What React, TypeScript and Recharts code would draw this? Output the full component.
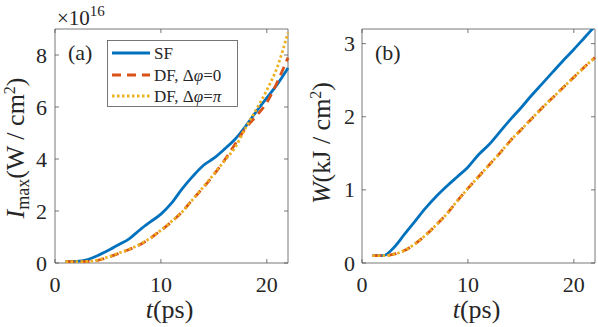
import React from 'react';
import { LineChart, Line, XAxis, YAxis, ReferenceArea } from 'recharts';

// ---------- data ----------
const T = [1, 2, 3, 4, 5, 6, 7, 8, 9, 10, 11, 12, 13, 14, 15, 16, 17, 18, 19, 20, 21, 22];

// panel (a): I_max in units of 1e16 W/cm^2
const A_SF = [0.05, 0.06, 0.12, 0.28, 0.48, 0.7, 0.93, 1.27, 1.58, 1.88, 2.3, 2.85, 3.33, 3.75, 4.03, 4.38, 4.76, 5.26, 5.82, 6.35, 6.88, 7.5];
const A_DF0 = [0.05, 0.05, 0.06, 0.1, 0.22, 0.36, 0.52, 0.7, 0.95, 1.25, 1.58, 1.97, 2.45, 2.9, 3.4, 3.95, 4.57, 5.18, 5.65, 6.17, 6.97, 7.9];
const A_DFPI = [0.05, 0.05, 0.06, 0.11, 0.23, 0.38, 0.53, 0.72, 0.96, 1.26, 1.6, 1.96, 2.44, 2.92, 3.42, 3.93, 4.44, 5.2, 5.9, 6.65, 7.55, 8.86];

// panel (b): W in kJ/cm^2
const B_SF = [0.1, 0.1, 0.21, 0.39, 0.57, 0.75, 0.91, 1.05, 1.18, 1.31, 1.48, 1.62, 1.79, 1.96, 2.12, 2.29, 2.45, 2.61, 2.77, 2.92, 3.08, 3.24];
const B_DF0 = [0.1, 0.1, 0.12, 0.17, 0.26, 0.38, 0.52, 0.67, 0.85, 1.02, 1.18, 1.34, 1.5, 1.67, 1.82, 1.97, 2.12, 2.26, 2.4, 2.54, 2.68, 2.81];
const B_DFPI = [0.1, 0.1, 0.12, 0.17, 0.26, 0.38, 0.52, 0.67, 0.85, 1.02, 1.18, 1.34, 1.5, 1.67, 1.82, 1.97, 2.12, 2.26, 2.4, 2.54, 2.68, 2.81];

const X_TICKS = [0, 10, 20];
const A_Y_TICKS = [0, 2, 4, 6, 8];
const B_Y_TICKS = [0, 1, 2, 3];
const X_DOMAIN = [0, 22];
const A_Y_DOMAIN = [0, 9];
const B_Y_DOMAIN = [0, 3.2];

const SERIES = [
  { key: 'sf', name: 'SF', color: '#0072BD', dash: undefined },
  { key: 'df0', name: 'DF, Δφ=0', color: '#D95319', dash: '9 6' },
  { key: 'dfpi', name: 'DF, Δφ=π', color: '#EDB120', dash: '2.5 2.5' },
];

const dataA = T.map((t, i) => ({ t, sf: A_SF[i], df0: A_DF0[i], dfpi: A_DFPI[i] }));
const dataB = T.map((t, i) => ({ t, sf: B_SF[i], df0: B_DF0[i], dfpi: B_DFPI[i] }));

// ---------- styling ----------
const FONT = 'Liberation Serif';
const INK = '#262626';
const BOX = '#555555';
const H = 327;
const TOP = 29;
const X_AXIS_H = 64;
const PLOT_H = H - TOP - X_AXIS_H;
const TICK_LEN = 4;

const makeXTick = () => (props: any) => {
  const { x, y, payload } = props;
  return (
    <g>
      <line x1={x} y1={y} x2={x} y2={y - TICK_LEN} stroke={BOX} strokeWidth={0.8} />
      <line x1={x} y1={y - PLOT_H} x2={x} y2={y - PLOT_H + TICK_LEN} stroke={BOX} strokeWidth={0.8} />
      <text x={x} y={y + 29} textAnchor="middle" fontSize={22} fontFamily={FONT} fill={INK}>
        {payload.value}
      </text>
    </g>
  );
};

const makeYTick = (plotW: number, gap: number) => (props: any) => {
  const { x, y, payload } = props;
  return (
    <g>
      <line x1={x} y1={y} x2={x + TICK_LEN} y2={y} stroke={BOX} strokeWidth={0.8} />
      <line x1={x + plotW} y1={y} x2={x + plotW - TICK_LEN} y2={y} stroke={BOX} strokeWidth={0.8} />
      <text x={x - gap} y={y + 7.5} textAnchor="end" fontSize={22} fontFamily={FONT} fill={INK}>
        {payload.value}
      </text>
    </g>
  );
};

const XLabel = (props: any) => {
  const vb = props.viewBox;
  return (
    <text x={vb.x + vb.width / 2 - 2} y={vb.y + 55} textAnchor="middle" fontSize={26} fontFamily={FONT} fill={INK}>
      <tspan fontStyle="italic">t</tspan>
      <tspan>(ps)</tspan>
    </text>
  );
};

const makeYLabelA = () => (props: any) => {
  const vb = props.viewBox;
  const cx = vb.x + 24;
  const cy = vb.y + vb.height / 2 + 2;
  return (
    <text x={cx} y={cy} textAnchor="middle" fontSize={26} fontFamily={FONT} fill={INK} transform={`rotate(-90, ${cx}, ${cy})`}>
      <tspan fontStyle="italic">I</tspan>
      <tspan fontSize={18} dy={5}>max</tspan>
      <tspan dy={-5}>(W / cm</tspan>
      <tspan fontSize={16} dy={-9}>2</tspan>
      <tspan dy={9}>)</tspan>
    </text>
  );
};

const makeYLabelB = () => (props: any) => {
  const vb = props.viewBox;
  const cx = vb.x + 30;
  const cy = vb.y + vb.height / 2 - 3;
  return (
    <text x={cx} y={cy} textAnchor="middle" fontSize={26} fontFamily={FONT} fill={INK} transform={`rotate(-90, ${cx}, ${cy})`}>
      <tspan fontStyle="italic">W</tspan>
      <tspan>(kJ / cm</tspan>
      <tspan fontSize={16} dy={-9}>2</tspan>
      <tspan dy={9}>)</tspan>
    </text>
  );
};

type PanelProps = {
  data: any[];
  width: number;
  yAxisWidth: number;
  marginRight: number;
  yDomain: number[];
  yTicks: number[];
  yLabel: (p: any) => any;
  tickGap: number;
};

function Panel({ data, width, yAxisWidth, marginRight, yDomain, yTicks, yLabel, tickGap }: PanelProps) {
  const plotW = width - yAxisWidth - marginRight;
  return (
    <LineChart width={width} height={H} data={data} margin={{ top: TOP, right: marginRight, bottom: 0, left: 0 }}>
      <XAxis
        dataKey="t"
        type="number"
        domain={X_DOMAIN}
        ticks={X_TICKS}
        height={X_AXIS_H}
        axisLine={false}
        tickLine={false}
        tickSize={0}
        tickMargin={0}
        tick={makeXTick()}
        interval={0}
        label={XLabel}
      />
      <YAxis
        type="number"
        domain={yDomain}
        ticks={yTicks}
        width={yAxisWidth}
        axisLine={false}
        tickLine={false}
        tickSize={0}
        tickMargin={0}
        tick={makeYTick(plotW, tickGap)}
        interval={0}
        allowDataOverflow
        label={yLabel}
      />
      <ReferenceArea
        x1={X_DOMAIN[0]}
        x2={X_DOMAIN[1]}
        y1={yDomain[0]}
        y2={yDomain[1]}
        fill="none"
        fillOpacity={0}
        stroke={BOX}
        strokeWidth={0.8}
        ifOverflow="visible"
      />
      {SERIES.map((s) => (
        <Line
          key={s.key}
          dataKey={s.key}
          name={s.name}
          type="monotone"
          stroke={s.color}
          strokeWidth={2.8}
          strokeDasharray={s.dash}
          dot={false}
          activeDot={false}
          isAnimationActive={false}
        />
      ))}
    </LineChart>
  );
}

function LegendBox() {
  const rows = [53, 75, 96];
  return (
    <svg width={131} height={67} style={{ position: 'absolute', left: 107, top: 40 }}>
      <rect x={0.5} y={0.5} width={130} height={66} fill="#fff" stroke={BOX} strokeWidth={0.8} />
      {SERIES.map((s, i) => {
        const cy = rows[i] - 40;
        return (
          <g key={s.key}>
            <line x1={5} y1={cy} x2={43} y2={cy} stroke={s.color} strokeWidth={2.8} strokeDasharray={s.dash} />
            <text x={47} y={cy + 5.5} fontSize={17} fontFamily={FONT} fill={INK}>
              {i === 0 ? (
                'SF'
              ) : (
                <>
                  <tspan>DF, Δ</tspan>
                  <tspan fontStyle="italic">φ</tspan>
                  <tspan>=</tspan>
                  {i === 1 ? <tspan>0</tspan> : <tspan fontStyle="italic">π</tspan>}
                </>
              )}
            </text>
          </g>
        );
      })}
    </svg>
  );
}

export default function App() {
  return (
    <div style={{ position: 'absolute', left: 0, top: 0, width: 598, height: H, background: '#fff', fontFamily: FONT }}>
      <div style={{ position: 'absolute', left: 0, top: 0 }}>
        <Panel
          data={dataA}
          width={300}
          yAxisWidth={55}
          marginRight={12}
          yDomain={A_Y_DOMAIN}
          yTicks={A_Y_TICKS}
          yLabel={makeYLabelA()}
          tickGap={8}
        />
      </div>
      <div style={{ position: 'absolute', left: 300, top: 0 }}>
        <Panel
          data={dataB}
          width={298}
          yAxisWidth={62}
          marginRight={3}
          yDomain={B_Y_DOMAIN}
          yTicks={B_Y_TICKS}
          yLabel={makeYLabelB()}
          tickGap={7}
        />
      </div>
      <svg width={598} height={H} style={{ position: 'absolute', left: 0, top: 0, pointerEvents: 'none' }}>
        <text x={57} y={25} fontSize={21} fontFamily={FONT} fill={INK}>
          <tspan>×10</tspan>
          <tspan fontSize={15} dy={-9}>16</tspan>
        </text>
        <text x={68} y={60} fontSize={22} fontFamily={FONT} fill={INK}>(a)</text>
        <text x={375} y={60} fontSize={22} fontFamily={FONT} fill={INK}>(b)</text>
      </svg>
      <LegendBox />
    </div>
  );
}
